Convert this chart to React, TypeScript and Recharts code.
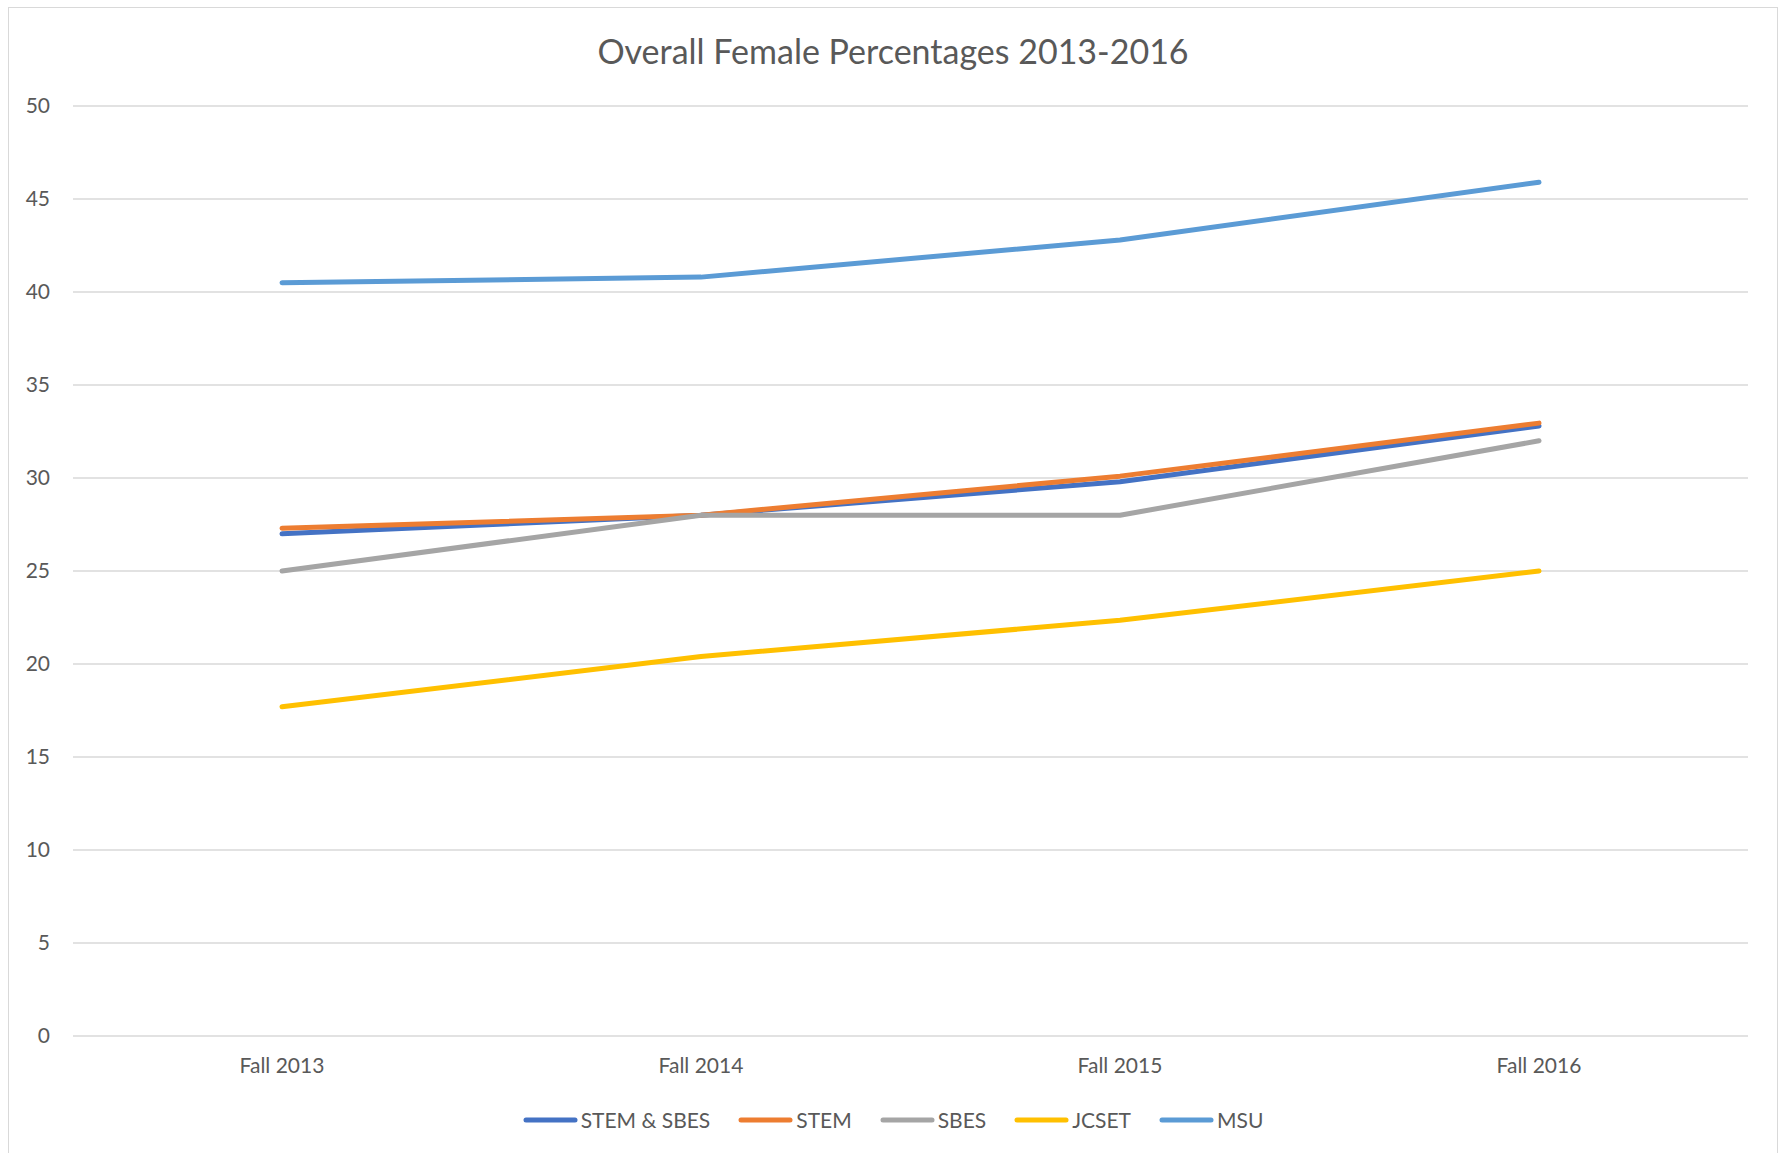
import React from "react"
import { CartesianGrid, Legend, Line, LineChart, XAxis, YAxis } from "recharts"

const CATEGORIES = ["Fall 2013", "Fall 2014", "Fall 2015", "Fall 2016"]
const STEM_SBES = [27.0, 28.0, 29.8, 32.8]
const STEM = [27.3, 28.0, 30.1, 32.95]
const SBES = [25.0, 28.0, 28.0, 32.0]
const JCSET = [17.7, 20.4, 22.35, 25.0]
const MSU = [40.5, 40.8, 42.8, 45.9]
const Y_TICKS = [0, 5, 10, 15, 20, 25, 30, 35, 40, 45, 50]

const SERIES = [
  { key: "STEM & SBES", values: STEM_SBES, color: "#4472C4" },
  { key: "STEM", values: STEM, color: "#ED7D31" },
  { key: "SBES", values: SBES, color: "#A5A5A5" },
  { key: "JCSET", values: JCSET, color: "#FFC000" },
  { key: "MSU", values: MSU, color: "#5B9BD5" },
]

const data = CATEGORIES.map((name, i) => {
  const row: Record<string, string | number> = { name }
  SERIES.forEach((s) => {
    row[s.key] = s.values[i]
  })
  return row
})

const FONT = "Lato, 'Open Sans', sans-serif"
const TEXT = "#595959"

function LegendContent() {
  return (
    <div
      style={{
        display: "flex",
        justifyContent: "center",
        alignItems: "center",
        height: 24,
        fontFamily: FONT,
        fontSize: 21,
        color: TEXT,
      }}
    >
      {SERIES.map((s, i) => (
        <div
          key={s.key}
          style={{ display: "flex", alignItems: "center", marginRight: i < SERIES.length - 1 ? 28 : 0 }}
        >
          <svg width={55} height={8}>
            <line x1={3} y1={4} x2={52} y2={4} stroke={s.color} strokeWidth={5} strokeLinecap="round" />
          </svg>
          <span style={{ marginLeft: 3, lineHeight: "24px" }}>{s.key}</span>
        </div>
      ))}
    </div>
  )
}

export default function App() {
  return (
    <div
      style={{
        position: "absolute",
        left: 8,
        top: 7,
        width: 1768,
        height: 1146,
        borderTop: "1px solid #D9D9D9",
        borderLeft: "1px solid #D9D9D9",
        borderRight: "1px solid #D9D9D9",
        background: "#fff",
      }}
    >
      <div
        style={{
          position: "absolute",
          top: 24,
          left: 0,
          width: 1768,
          textAlign: "center",
          fontFamily: FONT,
          fontSize: 34,
          lineHeight: "38px",
          color: TEXT,
        }}
      >
        Overall Female Percentages 2013-2016
      </div>
      <LineChart width={1768} height={1146} data={data} margin={{ top: 98, right: 29, bottom: 78, left: 24 }}>
        <CartesianGrid vertical={false} stroke="#D9D9D9" strokeWidth={1.5} />
        <XAxis
          dataKey="name"
          axisLine={false}
          tickLine={false}
          tickSize={0}
          tickMargin={22}
          height={40}
          padding={{ left: 209, right: 209 }}
          tick={{ fill: TEXT, fontSize: 21, fontFamily: FONT }}
        />
        <YAxis
          domain={[0, 50]}
          ticks={Y_TICKS}
          axisLine={false}
          tickLine={false}
          tickSize={0}
          tickMargin={23}
          width={40}
          tick={{ fill: TEXT, fontSize: 21, fontFamily: FONT }}
        />
        <Legend
          verticalAlign="middle"
          align="center"
          layout="horizontal"
          wrapperStyle={{ top: 1100, left: 0, width: 1768 }}
          content={() => <LegendContent />}
        />
        {SERIES.map((s) => (
          <Line
            key={s.key}
            type="linear"
            dataKey={s.key}
            stroke={s.color}
            strokeWidth={5}
            strokeLinecap="round"
            strokeLinejoin="round"
            dot={false}
            activeDot={false}
            isAnimationActive={false}
          />
        ))}
      </LineChart>
    </div>
  )
}
